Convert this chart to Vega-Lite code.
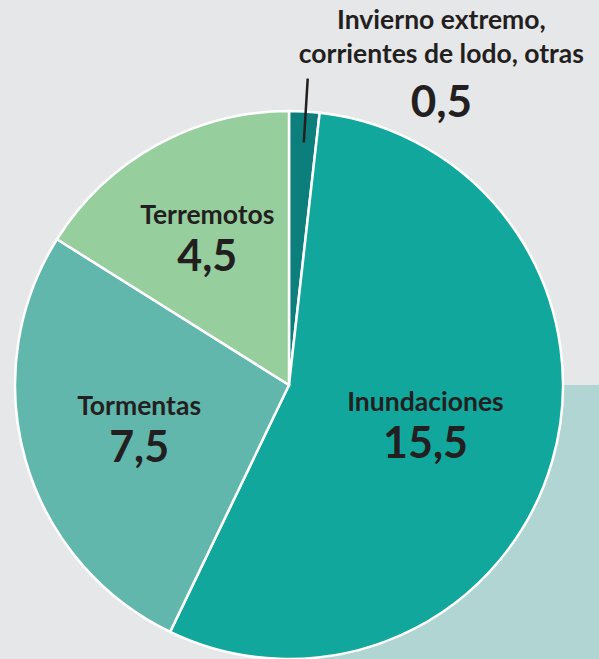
{
  "$schema": "https://vega.github.io/schema/vega-lite/v6.json",
  "width": 578,
  "height": 548,
  "autosize": {"type": "none"},
  "padding": {"left": 0, "top": 111, "right": 21, "bottom": 0},
  "background": "#e6e7e8",
  "config": {"view": {"stroke": null}, "font": "Lato"},
  "data": {
    "values": [
      {"orden": 1, "categoria": "Invierno extremo, corrientes de lodo, otras", "nombre": "Invierno extremo,\ncorrientes de lodo, otras", "valor": 0.5, "etiqueta": "0,5"},
      {"orden": 2, "categoria": "Inundaciones", "nombre": "Inundaciones", "valor": 15.5, "etiqueta": "15,5"},
      {"orden": 3, "categoria": "Tormentas", "nombre": "Tormentas", "valor": 7.5, "etiqueta": "7,5"},
      {"orden": 4, "categoria": "Terremotos", "nombre": "Terremotos", "valor": 4.5, "etiqueta": "4,5"}
    ]
  },
  "layer": [
    {
      "transform": [{"filter": "datum.orden == 1"}],
      "mark": {"type": "arc", "theta": 1.5708, "theta2": 3.1416, "radius": 460, "fill": "#b1d5d2", "stroke": null},
      "encoding": {}
    },
    {
      "mark": {"type": "arc", "radius": 274, "stroke": "#ffffff", "strokeWidth": 2.5},
      "encoding": {
        "theta": {"field": "valor", "type": "quantitative", "stack": true},
        "order": {"field": "orden", "type": "quantitative", "sort": "ascending"},
        "color": {
          "field": "categoria",
          "type": "nominal",
          "legend": null,
          "scale": {
            "domain": ["Invierno extremo, corrientes de lodo, otras", "Inundaciones", "Tormentas", "Terremotos"],
            "range": ["#0c7f7c", "#12a79c", "#62b7ad", "#96cf9d"]
          }
        }
      }
    },
    {
      "transform": [{"filter": "datum.orden == 1"}],
      "mark": {"type": "arc", "theta": 0.061, "theta2": 0.061, "innerRadius": 243, "outerRadius": 307, "stroke": "#231f20", "strokeWidth": 2.5, "fillOpacity": 0},
      "encoding": {}
    },
    {
      "mark": {"type": "text", "fontWeight": "bold", "fontSize": 26.5, "color": "#231f20", "dy": -21, "baseline": "middle", "align": "center"},
      "encoding": {
        "theta": {"field": "valor", "type": "quantitative", "stack": true},
        "order": {"field": "orden", "type": "quantitative", "sort": "ascending"},
        "radius": {"field": "valor", "type": "quantitative", "scale": {"type": "linear", "domain": [4.5, 7.5, 15.5], "range": [169, 156, 142], "zero": false}},
        "text": {"field": "nombre", "type": "nominal", "condition": {"test": "datum.orden == 1", "value": ""}}
      }
    },
    {
      "mark": {"type": "text", "fontWeight": "bold", "fontSize": 43, "color": "#231f20", "dy": 21, "baseline": "middle", "align": "center"},
      "encoding": {
        "theta": {"field": "valor", "type": "quantitative", "stack": true},
        "order": {"field": "orden", "type": "quantitative", "sort": "ascending"},
        "radius": {"field": "valor", "type": "quantitative", "scale": {"type": "linear", "domain": [4.5, 7.5, 15.5], "range": [169, 156, 142], "zero": false}},
        "text": {"field": "etiqueta", "type": "nominal", "condition": {"test": "datum.orden == 1", "value": ""}}
      }
    },
    {
      "mark": {"type": "text", "fontWeight": "bold", "fontSize": 26.5, "color": "#231f20", "radius": 274, "dx": 137, "dy": -103, "baseline": "top", "align": "center", "lineBreak": "\n", "lineHeight": 34},
      "encoding": {
        "theta": {"field": "valor", "type": "quantitative", "stack": true},
        "order": {"field": "orden", "type": "quantitative", "sort": "ascending"},
        "text": {"field": "nombre", "type": "nominal", "condition": {"test": "datum.orden != 1", "value": ""}}
      }
    },
    {
      "mark": {"type": "text", "fontWeight": "bold", "fontSize": 44, "color": "#231f20", "radius": 274, "dx": 137, "dy": 6, "baseline": "alphabetic", "align": "center"},
      "encoding": {
        "theta": {"field": "valor", "type": "quantitative", "stack": true},
        "order": {"field": "orden", "type": "quantitative", "sort": "ascending"},
        "text": {"field": "etiqueta", "type": "nominal", "condition": {"test": "datum.orden != 1", "value": ""}}
      }
    }
  ]
}
